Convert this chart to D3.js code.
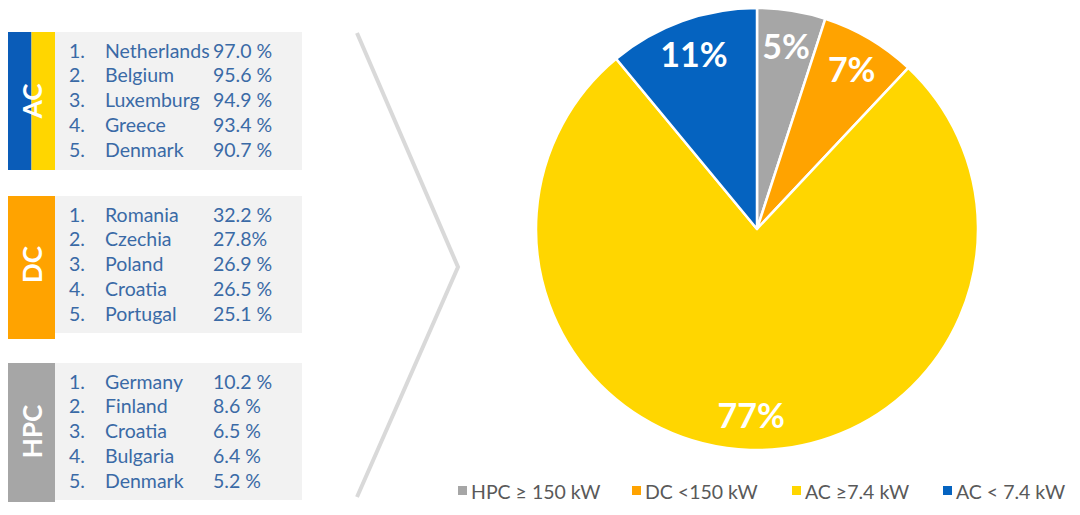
<!DOCTYPE html>
<html><head><meta charset="utf-8">
<script src="https://cdn.jsdelivr.net/npm/d3@7"></script>
<style>body{margin:0;background:#fff;}svg{display:block;font-family:Lato,"Open Sans",sans-serif;}</style>
</head><body>
<svg id="c" width="1080" height="515"></svg>
<script>
// Pie data
const categories = ["HPC ≥ 150 kW", "DC <150 kW", "AC ≥7.4 kW", "AC < 7.4 kW"];
const shares = [5, 7, 77, 11];
const colors = ["#a6a6a6", "#ffa300", "#ffd600", "#0563c0"];

// Ranking panels
const panelNames = ["AC", "DC", "HPC"];
const acCountries = ["Netherlands", "Belgium", "Luxemburg", "Greece", "Denmark"];
const acValues = ["97.0 %", "95.6 %", "94.9 %", "93.4 %", "90.7 %"];
const dcCountries = ["Romania", "Czechia", "Poland", "Croatia", "Portugal"];
const dcValues = ["32.2 %", "27.8%", "26.9 %", "26.5 %", "25.1 %"];
const hpcCountries = ["Germany", "Finland", "Croatia", "Bulgaria", "Denmark"];
const hpcValues = ["10.2 %", "8.6 %", "6.5 %", "6.4 %", "5.2 %"];

const svg = d3.select("#c");

// ---- Left panels ----
const panels = [
  {name: panelNames[0], countries: acCountries, values: acValues, y0: 32, h: 138, barH: 138, fills: ["#0a5cb8", "#ffd600"]},
  {name: panelNames[1], countries: dcCountries, values: dcValues, y0: 196, h: 137, barH: 143, fills: ["#ffa300"]},
  {name: panelNames[2], countries: hpcCountries, values: hpcValues, y0: 363, h: 137, barH: 139, fills: ["#a6a6a6"]}
];
const textColor = "#3a6aa6";
panels.forEach(p => {
  const g = svg.append("g");
  g.append("rect").attr("x", 55).attr("y", p.y0).attr("width", 247).attr("height", p.h).attr("fill", "#f2f2f2");
  const bw = 47 / p.fills.length;
  p.fills.forEach((f, i) => {
    g.append("rect").attr("x", 8 + i * bw).attr("y", p.y0).attr("width", bw).attr("height", p.barH).attr("fill", f);
  });
  g.append("text")
    .attr("transform", `translate(32,${p.y0 + p.h / 2}) rotate(-90)`)
    .attr("text-anchor", "middle").attr("dominant-baseline", "central")
    .attr("fill", "#fff").attr("font-weight", 700).attr("font-size", 26)
    .text(p.name);
  const yr = d3.scaleLinear().domain([0, 4]).range([p.y0 + 18, p.y0 + 117]);
  p.countries.forEach((c, i) => {
    const y = yr(i);
    g.append("text").attr("x", 69).attr("y", y).attr("dominant-baseline", "central")
      .attr("fill", textColor).attr("font-size", 19.5).text((i + 1) + ".");
    g.append("text").attr("x", 105).attr("y", y).attr("dominant-baseline", "central")
      .attr("fill", textColor).attr("font-size", 19.5).text(c);
    g.append("text").attr("x", 213).attr("y", y).attr("dominant-baseline", "central")
      .attr("fill", textColor).attr("font-size", 19.5).text(p.values[i]);
  });
});

// ---- Chevron ----
svg.append("path")
  .attr("d", d3.line()([[357, 33], [458, 267], [357, 497]]))
  .attr("fill", "none").attr("stroke", "#d9d9d9").attr("stroke-width", 4);

// ---- Pie ----
const cx = 757, cy = 229, R = 221;
const pie = d3.pie().sort(null).value(d => d)(shares);
const arc = d3.arc().innerRadius(0).outerRadius(R);
const labelArc = d3.arc().innerRadius(186).outerRadius(186);
const pg = svg.append("g").attr("transform", `translate(${cx},${cy})`);
pg.selectAll("path").data(pie).join("path")
  .attr("d", arc).attr("fill", (d, i) => colors[i])
  .attr("stroke", "#fff").attr("stroke-width", 2.5).attr("stroke-linejoin", "round");
pg.selectAll("text").data(pie).join("text")
  .attr("transform", d => `translate(${labelArc.centroid(d)})`)
  .attr("text-anchor", "middle").attr("dominant-baseline", "central")
  .attr("fill", "#fff").attr("font-weight", 700).attr("font-size", 34)
  .text(d => d.data + "%");

// ---- Legend ----
const legendX = [458, 632, 792, 943];
const lg = svg.append("g");
categories.forEach((c, i) => {
  lg.append("rect").attr("x", legendX[i]).attr("y", 486).attr("width", 9).attr("height", 9).attr("fill", colors[i]);
  lg.append("text").attr("x", legendX[i] + 13).attr("y", 491).attr("dominant-baseline", "central")
    .attr("fill", "#595959").attr("font-size", 19.5).text(c);
});
</script>
</body></html>
